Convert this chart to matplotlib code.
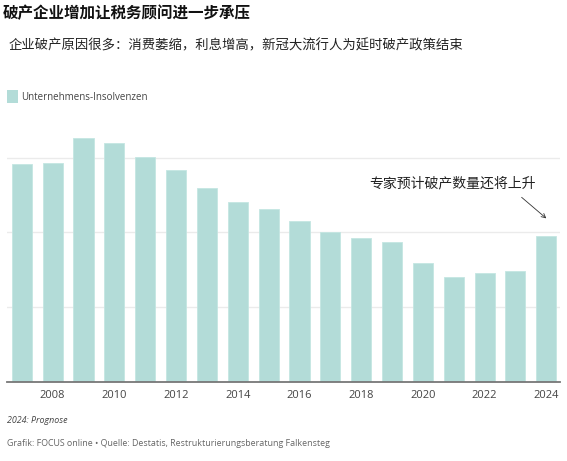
import matplotlib
matplotlib.use("Agg")
import matplotlib.pyplot as plt
from matplotlib.patches import Rectangle

plt.rcParams['font.family'] = ['Noto Sans CJK SC', 'DejaVu Sans']

years = list(range(2007, 2025))
insolvencies = [29160, 29291, 32687, 31998, 30099, 28297, 25995, 24085, 23101,
                21518, 20093, 19302, 18749, 15841, 13993, 14590, 14800, 19500]
tick_years = list(range(2008, 2025, 2))

title = "破产企业增加让税务顾问进一步承压"
subtitle = "企业破产原因很多：消费萎缩，利息增高，新冠大流行人为延时破产政策结束"
legend_label = "Unternehmens-Insolvenzen"
note = "专家预计破产数量还将上升"
footnote = "2024: Prognose"
source = "Grafik: FOCUS online • Quelle: Destatis, Restrukturierungsberatung Falkensteg"

bar_color = "#b3dcd8"

fig = plt.figure(figsize=(5.67, 4.61), dpi=100)
ax = fig.add_axes([0.0123, 0.172, 0.9757, 0.567])

ax.bar(years, insolvencies, width=0.65, color=bar_color, edgecolor="#c4e6e2",
       linewidth=0.6, zorder=2)

ax.set_xlim(2006.52, 2024.45)
ax.set_ylim(0, 35000)
ax.set_yticks([10000, 20000, 30000])
ax.yaxis.grid(True, color="#ebebeb", linewidth=1.0, zorder=0)
ax.tick_params(axis="y", left=False, labelleft=False)
ax.set_xticks(tick_years)
ax.set_xticklabels([str(y) for y in tick_years], fontfamily="Open Sans",
                   fontsize=8, color="#444444")
ax.tick_params(axis="x", length=0, pad=6)
for s in ["top", "right", "left"]:
    ax.spines[s].set_visible(False)
ax.spines["bottom"].set_color("#777777")
ax.spines["bottom"].set_linewidth(1.3)
ax.spines["bottom"].set_zorder(3)

ax.text(2020.97, 26600, note, ha="center", va="center", fontsize=10,
        color="#222222")
ax.annotate("", xy=(2024.0, 21870), xytext=(2023.2, 24690),
            arrowprops=dict(arrowstyle="->,head_length=0.3,head_width=0.15",
                            color="#333333", lw=0.6, shrinkA=0, shrinkB=0))

fig.text(3 / 567, 1 - 13 / 461, title, ha="left", va="center", fontsize=11.2,
         fontweight="bold", color="#111111")
fig.text(9 / 567, 1 - 45 / 461, subtitle, ha="left", va="center",
         fontsize=9.6, color="#222222")

fig.patches.append(Rectangle((7 / 567, 1 - 103 / 461), 11 / 567, 13 / 461,
                             transform=fig.transFigure, facecolor=bar_color,
                             edgecolor="none"))
fig.text(21 / 567, 1 - 97 / 461, legend_label, ha="left", va="center",
         fontsize=7.0, color="#444444", fontfamily="Open Sans")

fig.text(7 / 567, 1 - 420 / 461, footnote, ha="left", va="center",
         fontsize=6.4, color="#444444", fontfamily="Open Sans", style="italic")
fig.text(7 / 567, 1 - 443 / 461, source, ha="left", va="center",
         fontsize=6.4, color="#666666", fontfamily="Open Sans")

fig.savefig("out.png", dpi=100)
